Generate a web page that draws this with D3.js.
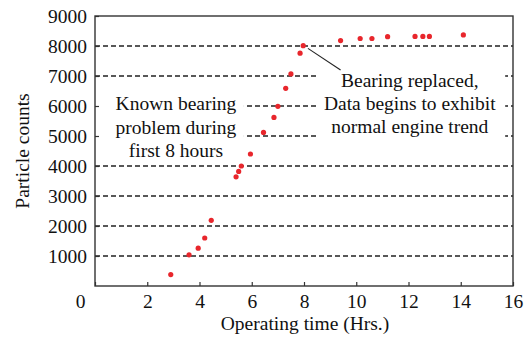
<!DOCTYPE html>
<html>
<head>
<meta charset="utf-8">
<script src="https://cdn.jsdelivr.net/npm/d3@7"></script>
<style>
  body { margin: 0; background: #fff; }
  svg text { font-family: "Liberation Serif", "Times New Roman", serif !important; fill: #111; }
</style>
</head>
<body>
<div id="chart"></div>
<script>
// operating time (hrs) and particle counts
const hours = [2.9, 3.6, 3.95, 4.2, 4.45, 5.4, 5.5, 5.6, 5.95, 6.45, 6.85, 7.0, 7.3, 7.5, 7.85, 7.97,
               9.4, 10.15, 10.6, 11.2, 12.25, 12.55, 12.8, 14.1];
const counts = [380, 1040, 1260, 1600, 2190, 3640, 3820, 4000, 4400, 5120, 5620, 5990, 6590, 7070, 7760, 8010,
                8180, 8250, 8250, 8310, 8320, 8320, 8320, 8370];
const xTicks = [0, 2, 4, 6, 8, 10, 12, 14, 16];
const yTicks = [1000, 2000, 3000, 4000, 5000, 6000, 7000, 8000, 9000];
const gridValues = [1000, 2000, 3000, 4000, 5000, 6000, 7000, 8000];
const noteLeft = ["Known bearing", "problem during", "first 8 hours"];
const noteRight = ["Bearing replaced,", "Data begins to exhibit", "normal engine trend"];

const W = 529, H = 344;
const margin = {top: 16, right: 16, bottom: 58, left: 95};
const fs = 19.5;

const svg = d3.select("#chart").append("svg")
    .attr("width", W)
    .attr("height", H);

const x = d3.scaleLinear().domain([0, 16]).range([margin.left, W - margin.right]);
const y = d3.scaleLinear().domain([0, 9000]).range([H - margin.bottom, margin.top]);

// dashed grid
svg.append("g")
    .selectAll("line")
    .data(gridValues)
    .join("line")
    .attr("x1", x(0))
    .attr("x2", x(16))
    .attr("y1", d => y(d))
    .attr("y2", d => y(d))
    .attr("stroke", "#222")
    .attr("stroke-width", 1.4)
    .attr("stroke-dasharray", "5,3");

// white boxes behind the notes hide the grid
svg.append("rect")
    .attr("x", x(0)).attr("y", y(6450))
    .attr("width", x(5.7) - x(0)).attr("height", y(4280) - y(6450))
    .attr("fill", "#fff");
svg.append("rect")
    .attr("x", x(8.55)).attr("y", y(7500))
    .attr("width", x(15.7) - x(8.55)).attr("height", y(4700) - y(7500))
    .attr("fill", "#fff");

// axes
const xAxis = svg.append("g")
    .attr("transform", `translate(0,${y(0)})`)
    .call(d3.axisBottom(x).tickValues(xTicks).tickFormat(d3.format("d"))
        .tickSizeInner(-4).tickSizeOuter(0).tickPadding(8));
xAxis.attr("font-family", null).attr("font-size", null);
xAxis.selectAll("text")
    .style("font-size", fs + "px")
    .attr("dx", d => d === 0 ? -15 : 0);

const yAxis = svg.append("g")
    .attr("transform", `translate(${x(0)},0)`)
    .call(d3.axisLeft(y).tickValues(yTicks).tickFormat(d3.format("d"))
        .tickSizeInner(-4).tickSizeOuter(0).tickPadding(8));
yAxis.attr("font-family", null).attr("font-size", null);
yAxis.selectAll("text").style("font-size", fs + "px");

svg.selectAll(".domain").remove();
svg.selectAll(".tick line").attr("stroke", "#333").attr("stroke-width", 1.2);

// frame
svg.append("rect")
    .attr("x", x(0)).attr("y", y(9000))
    .attr("width", x(16) - x(0)).attr("height", y(0) - y(9000))
    .attr("fill", "none")
    .attr("stroke", "#333")
    .attr("stroke-width", 1.4);

// axis titles
svg.append("text")
    .attr("x", (x(0) + x(16)) / 2 + 1)
    .attr("y", 330)
    .attr("text-anchor", "middle")
    .style("font-size", fs + "px")
    .text("Operating time (Hrs.)");

svg.append("text")
    .attr("transform", `translate(29,${(y(0) + y(9000)) / 2}) rotate(-90)`)
    .attr("text-anchor", "middle")
    .style("font-size", fs + "px")
    .text("Particle counts");

// notes
svg.append("g")
    .selectAll("text")
    .data(noteLeft)
    .join("text")
    .attr("x", x(3.1))
    .attr("y", (d, i) => y(5860) + i * 23.5)
    .attr("text-anchor", "middle")
    .style("font-size", fs + "px")
    .text(d => d);

svg.append("g")
    .selectAll("text")
    .data(noteRight)
    .join("text")
    .attr("x", x(12.05))
    .attr("y", (d, i) => y(6640) + i * 23)
    .attr("text-anchor", "middle")
    .style("font-size", fs + "px")
    .text(d => d);

// leader line
svg.append("line")
    .attr("x1", x(8.15)).attr("y1", y(7920))
    .attr("x2", x(9.4)).attr("y2", y(7200))
    .attr("stroke", "#222")
    .attr("stroke-width", 1.1);

// points
svg.append("g")
    .selectAll("circle")
    .data(hours.map((h, i) => [h, counts[i]]))
    .join("circle")
    .attr("cx", d => x(d[0]))
    .attr("cy", d => y(d[1]))
    .attr("r", 2.6)
    .attr("fill", "#e8262c");
</script>
</body>
</html>
